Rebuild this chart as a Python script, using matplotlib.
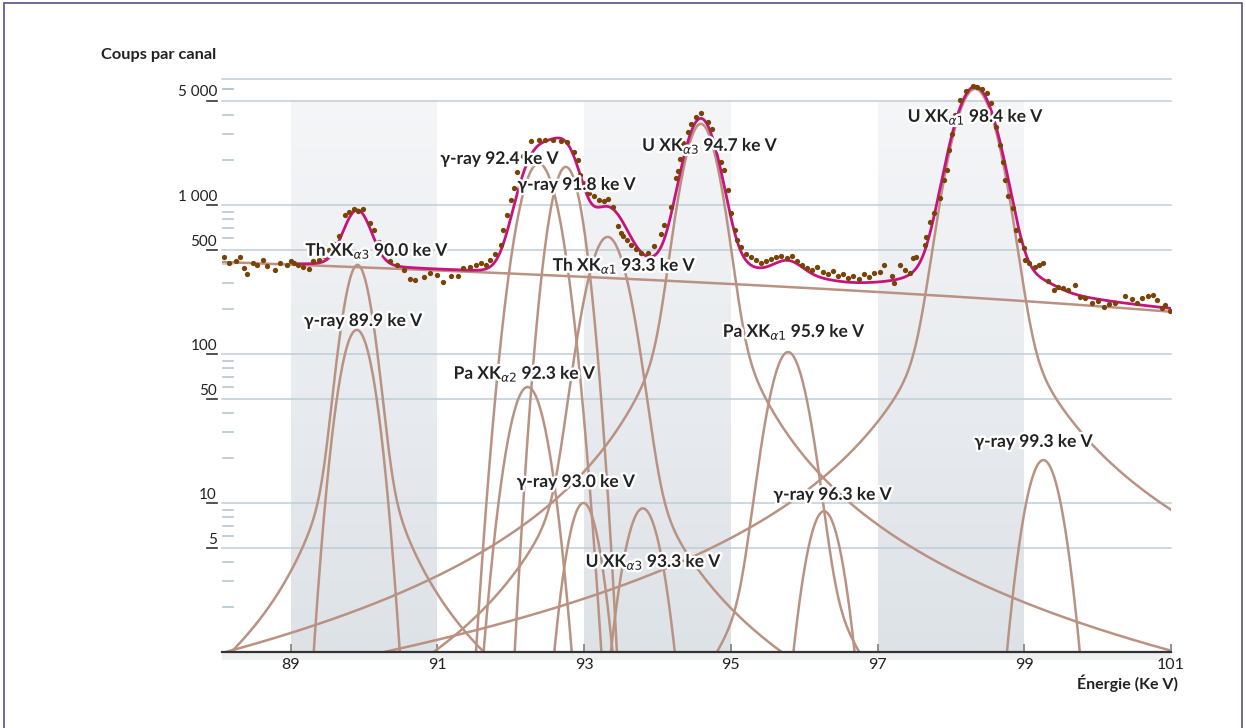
import numpy as np
import matplotlib.pyplot as plt
from matplotlib import patheffects
from matplotlib.patches import Rectangle

plt.rcParams["font.family"] = ["Lato", "DejaVu Sans"]
plt.rcParams["mathtext.fontset"] = "dejavusans"

# measured spectrum (energy in keV, counts per channel)
energy = [88.09, 88.16, 88.25, 88.31, 88.36, 88.40, 88.48, 88.54, 88.62, 88.67,
          88.78, 88.86, 88.95, 89.01, 89.05, 89.10, 89.17, 89.25, 89.31, 89.38,
          89.45, 89.52, 89.59, 89.66, 89.74, 89.80, 89.86, 89.92, 89.98, 90.08,
          90.14, 90.20, 90.28, 90.36, 90.45, 90.54, 90.62, 90.70, 90.81, 90.90,
          90.99, 91.08, 91.18, 91.28, 91.35, 91.45, 91.52, 91.59, 91.66, 91.72,
          91.79, 91.86, 91.90, 91.95, 92.00, 92.04, 92.09, 92.17, 92.27, 92.38,
          92.47, 92.58, 92.68, 92.77, 92.86, 92.91, 92.95, 93.01, 93.07, 93.14,
          93.20, 93.27, 93.32, 93.39, 93.46, 93.50, 93.53, 93.58, 93.64, 93.71,
          93.78, 93.87, 93.95, 94.05, 94.09, 94.18, 94.25, 94.28, 94.31, 94.35,
          94.41, 94.45, 94.52, 94.59, 94.69, 94.74, 94.80, 94.86, 94.91, 94.96,
          95.00, 95.05, 95.09, 95.14, 95.20, 95.27, 95.34, 95.41, 95.48, 95.55,
          95.62, 95.69, 95.76, 95.83, 95.90, 95.97, 96.04, 96.11, 96.18, 96.25,
          96.32, 96.39, 96.46, 96.53, 96.60, 96.67, 96.74, 96.81, 96.88, 96.95,
          97.03, 97.09, 97.19, 97.23, 97.30, 97.37, 97.44, 97.48, 97.53, 97.64,
          97.66, 97.72, 97.77, 97.85, 97.91, 97.94, 97.97, 98.01, 98.05, 98.12,
          98.21, 98.30, 98.36, 98.43, 98.49, 98.54, 98.62, 98.67, 98.71, 98.74,
          98.78, 98.84, 98.89, 98.94, 98.99, 99.01, 99.07, 99.14, 99.20, 99.26,
          99.33, 99.40, 99.46, 99.53, 99.60, 99.69, 99.76, 99.83, 99.92, 100.00,
          100.08, 100.16, 100.24, 100.37, 100.47, 100.53, 100.60, 100.69, 100.76, 100.81,
          100.88, 100.92, 100.99]
counts = [446, 410, 423, 446, 376, 343, 410, 394, 427, 390,
          366, 410, 396, 423, 410, 396, 385, 372, 421, 430,
          455, 500, 545, 620, 857, 900, 935, 905, 935, 760,
          680, 567, 470, 420, 395, 366, 317, 314, 327, 348,
          340, 305, 331, 331, 376, 386, 395, 405, 398, 427,
          470, 540, 680, 860, 1080, 1300, 1660, 2120, 2670, 2740,
          2740, 2740, 2700, 2630, 2270, 1990, 1590, 1400, 1200, 1150,
          1080, 1060, 1100, 965, 720, 650, 615, 580, 540, 510,
          473, 473, 527, 643, 735, 965, 1510, 1700, 2040, 2620,
          3110, 3490, 3900, 4170, 3600, 3250, 2600, 1940, 1720, 1260,
          880, 679, 582, 520, 470, 448, 425, 410, 418, 432,
          445, 455, 438, 452, 420, 398, 380, 368, 386, 356,
          342, 360, 332, 346, 322, 336, 318, 342, 330, 352,
          356, 396, 331, 301, 396, 366, 350, 439, 450, 539,
          612, 773, 888, 1110, 1470, 1720, 2340, 3000, 4020, 5070,
          5850, 6290, 6220, 6000, 5670, 4860, 3360, 2530, 1950, 1470,
          1140, 950, 679, 582, 512, 427, 410, 385, 395, 406,
          310, 269, 283, 276, 269, 290, 240, 238, 221, 225,
          208, 215, 221, 243, 232, 220, 238, 243, 249, 230,
          203, 213, 195]

# linear background under the peaks
bg_energy = [88.06, 101.0]
bg_counts = [414, 192]

# fitted components: centre (keV), height, gaussian sigma, lorentzian tail weight
peak_center = [89.91, 89.90, 92.38, 92.75, 92.23, 92.99, 93.32, 93.80, 94.59, 95.78, 96.27, 98.33, 99.26]
peak_height = [396, 145, 1900, 1800, 60, 10, 610, 9.2, 3500, 103, 8.8, 6000, 19.4]
peak_sigma = [0.16, 0.186, 0.22, 0.18, 0.21, 0.185, 0.23, 0.207, 0.20, 0.21, 0.20, 0.25, 0.204]
peak_tail = [3.0, 0, 0, 0, 0, 0, 5.7, 0, 42, 1.0, 0, 65, 0]

bands = [(89, 91), (93, 95), (97, 99)]

# annotations: text, x (keV), y (counts, baseline)
labels = [
    ("γ-ray 92.4 ke V", 91.04, 1884),
    ("γ-ray 91.8 ke V", 92.09, 1262),
    (r"U XK$_{\alpha3}$ 94.7 ke V", 93.79, 2303),
    (r"U XK$_{\alpha1}$ 98.4 ke V", 97.41, 3606),
    (r"Th XK$_{\alpha3}$ 90.0 ke V", 89.20, 455),
    (r"Th XK$_{\alpha1}$ 93.3 ke V", 92.57, 361),
    ("γ-ray 89.9 ke V", 89.18, 154),
    (r"Pa XK$_{\alpha1}$ 95.9 ke V", 94.89, 130),
    (r"Pa XK$_{\alpha2}$ 92.3 ke V", 91.22, 68),
    ("γ-ray 99.3 ke V", 98.32, 23.8),
    ("γ-ray 93.0 ke V", 92.08, 12.8),
    ("γ-ray 96.3 ke V", 95.58, 10.5),
    (r"U XK$_{\alpha3}$ 93.3 ke V", 93.02, 3.72),
]


def peak(x, c, h, s, t):
    d2 = (x - c) ** 2
    g2 = 2 * np.log(2) * s ** 2
    eta = t / (h * g2)
    return h * (1 - eta) * np.exp(-d2 / (2 * s * s)) + t / (d2 + g2)


comp_col = "#b99282"
fit_col = "#c8137f"
dot_col = "#7a4306"
grid_col = "#bfcdd7"

fig = plt.figure(figsize=(12.46, 7.28), dpi=100)
ax = fig.add_axes([222 / 1246, 1 - 652 / 728, (1171 - 222) / 1246, (652 - 79) / 728])
ax.set_yscale("log")
ax.set_xlim(88.063, 101.0)
ax.set_ylim(1, 7000)

# shaded energy windows, light at the top
top_rgb = np.array([0.957, 0.961, 0.969])
bot_rgb = np.array([0.867, 0.886, 0.906])
levels = np.logspace(0, np.log10(5000), 61)
for x0, x1 in bands:
    for k in range(60):
        f = k / 59
        ax.fill_between([x0, x1], levels[k], levels[k + 1] * 1.002,
                        color=bot_rgb + (top_rgb - bot_rgb) * f, lw=0, zorder=0)

for v in [5, 10, 50, 100, 500, 1000, 5000, 7000]:
    ax.axhline(v, color=grid_col, lw=1.1, zorder=1, clip_on=False)

x = np.linspace(88.063, 101.0, 3000)
background = np.interp(x, bg_energy, bg_counts)
total = background.copy()
ax.plot(x, background, color=comp_col, lw=1.8, zorder=2)
for c, h, s, t in zip(peak_center, peak_height, peak_sigma, peak_tail):
    y = peak(x, c, h, s, t)
    total += y
    ax.plot(x, y, color=comp_col, lw=1.8, zorder=2)

fit_mask = x >= 89.1
ax.plot(x[fit_mask], total[fit_mask], color=fit_col, lw=2.0, zorder=3)
ax.plot(energy, counts, "o", color=dot_col, ms=3.8, mew=0, zorder=4)

halo = [patheffects.withStroke(linewidth=3.5, foreground="white")]
for text, lx, ly in labels:
    ax.text(lx, ly, text, fontsize=12.5, fontweight="bold", color="#222222",
            va="baseline", ha="left", path_effects=halo, zorder=6)

# axes styling
for side in ["left", "right", "top"]:
    ax.spines[side].set_visible(False)
ax.spines["bottom"].set_color("#333333")
ax.spines["bottom"].set_linewidth(1.6)
ax.set_xticks([89, 91, 93, 95, 97, 99, 101])
ax.tick_params(axis="x", direction="in", length=6, width=1.3, color="#888888",
               labelsize=11.5, labelcolor="#222222", pad=4)
ax.yaxis.set_major_locator(plt.NullLocator())
ax.yaxis.set_minor_locator(plt.NullLocator())

# hand-drawn y ticks: dark marks outside for labelled values, pale ones inside
ytrans = ax.get_yaxis_transform()
major = {5: "5", 10: "10", 50: "50", 100: "100", 500: "500", 1000: "1 000", 5000: "5 000"}
for v, lab in major.items():
    ax.plot([-0.0158, -0.0053], [v, v], color="#333333", lw=1.2, transform=ytrans, clip_on=False)
    ax.text(-0.0053, v * 1.02, lab, transform=ytrans, ha="right", va="bottom",
            fontsize=11, color="#222222")
minor = [m * 10 ** e for e in range(0, 4) for m in range(2, 10) if m != 5]
minor = [v for v in minor if v < 7000] + [6000]
for v in minor:
    ax.plot([0.001, 0.0116], [v, v], color="#b5c6d1", lw=1.2, transform=ytrans, clip_on=False)

fig.text(101 / 1246, 1 - 55 / 728, "Coups par canal", fontsize=11.8, fontweight="bold",
         color="#222222", ha="left", va="center")
fig.text(1178 / 1246, 1 - 683 / 728, "Énergie (Ke V)", fontsize=11.5, fontweight="bold",
         color="#222222", ha="right", va="center")

fig.add_artist(Rectangle((222 / 1246, 1 - 660 / 728), (1171 - 222) / 1246, 7 / 728,
                         transform=fig.transFigure, color="#eef0f2", lw=0, zorder=-1))
fig.add_artist(Rectangle((4 / 1246, -0.01), 1238 / 1246, 1.0 - 3 / 728 + 0.01,
                         transform=fig.transFigure, fill=False, ec="#5b4e86", lw=1.2))

fig.savefig("out.png", dpi=100)
